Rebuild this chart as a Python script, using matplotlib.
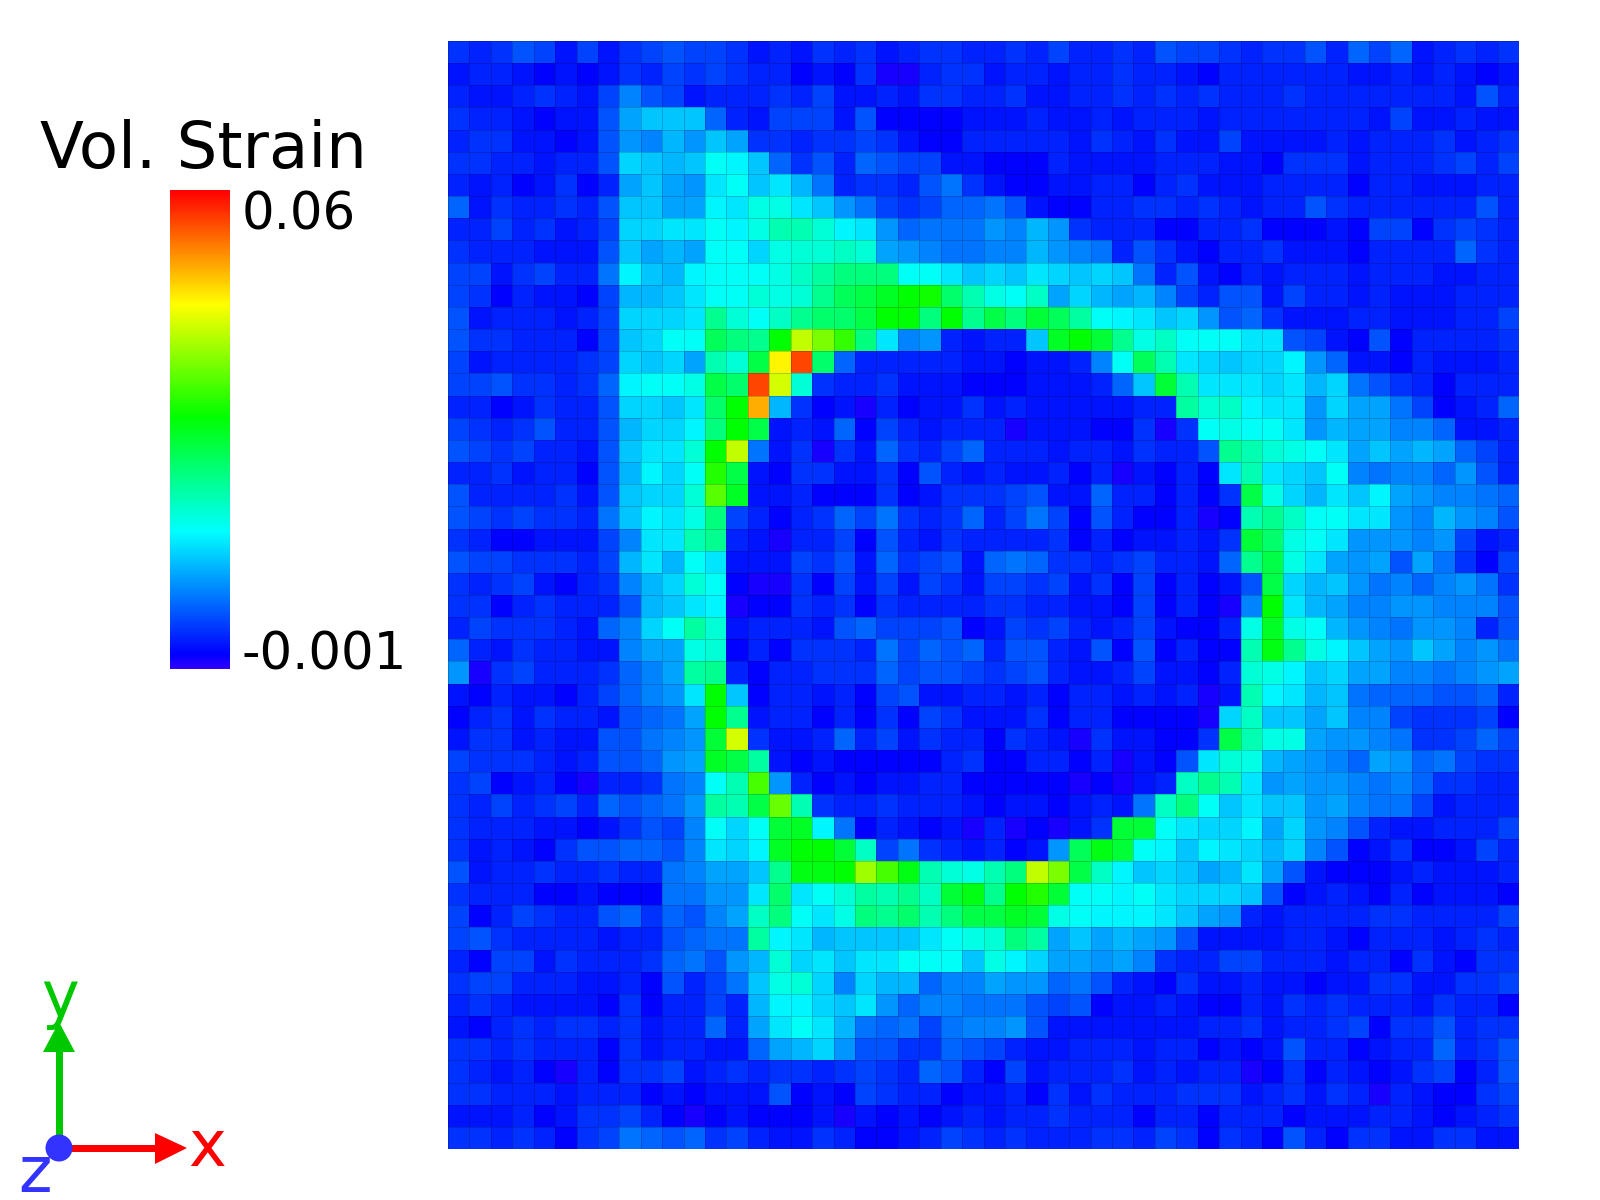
import numpy as np
import matplotlib
matplotlib.use('Agg')
import matplotlib.pyplot as plt
from matplotlib.colors import LinearSegmentedColormap
from matplotlib.patches import Circle, Polygon, Rectangle

# volumetric strain per cell, top row first, in units of 1e-3
r00 = [4,3,4,6,5,2,5,2,4,5,6,5,5,4,2,3,2, 4,3,4,2,3,4,4,3,3,4,3,5,3,3,4,3,6, 5,5,4,3,4,4,6,3,7,5,7,2,3,4,3,4]
r01 = [2,3,3,2,1,2,1,2,4,3,5,4,5,4,3,3,1, 2,1,4,0,0,3,4,4,2,3,3,2,3,3,4,3,3, 2,1,3,3,3,3,3,3,2,2,3,2,3,2,1,2]
r02 = [3,2,2,3,4,3,2,5,9,6,5,2,3,3,3,4,3, 5,2,2,3,2,4,4,3,3,4,2,2,3,3,4,3,4, 3,4,3,3,3,4,3,3,3,3,3,3,3,2,6,3]
r03 = [4,3,3,2,1,2,2,6,11,13,13,13,7,3,2,5,5, 5,2,6,1,1,1,1,2,2,2,3,2,2,3,2,3,3, 3,2,3,3,3,3,3,3,3,2,5,2,2,3,2,2]
r04 = [3,4,4,2,2,1,2,6,10,9,12,10,13,11,4,4,3, 4,4,5,4,2,1,1,3,3,3,3,3,2,4,3,2,4, 2,2,5,2,2,2,2,3,2,3,3,3,4,2,3,4]
r05 = [4,4,3,3,2,3,3,6,14,13,12,13,17,16,13,7,4, 6,3,7,6,5,5,2,2,1,1,1,3,2,2,2,2,3, 3,3,2,2,1,4,4,4,2,3,3,3,4,5,3,5]
r06 = [3,2,3,1,2,4,1,3,11,13,11,10,15,17,13,15,12, 8,3,4,4,3,6,8,4,2,1,1,2,2,3,3,1,3, 4,2,2,2,3,3,3,3,1,3,3,2,2,2,3,3]
r07 = [7,2,4,3,3,4,3,6,13,13,11,11,16,15,18,18,15, 13,10,8,5,4,5,7,7,8,6,2,1,1,3,3,4,4, 3,4,3,2,3,3,6,4,3,3,3,3,3,3,6,3]
r08 = [3,3,5,3,4,2,3,5,14,14,15,15,17,16,18,21,21, 19,16,15,10,7,8,8,8,10,9,12,10,4,3,3,3,1, 1,3,3,4,1,1,1,2,1,5,5,1,4,5,4,3]
r09 = [4,3,3,3,2,2,2,6,13,11,12,11,17,17,14,18,19, 19,20,19,11,10,9,8,8,9,9,12,10,9,8,3,6,4, 2,1,3,3,4,2,2,2,1,3,3,3,3,7,4,3]
r10 = [5,5,2,4,5,3,3,8,16,13,12,16,17,17,17,18,20, 22,24,24,24,17,17,15,13,14,13,15,14,13,14,13,8,3, 6,2,1,3,2,3,3,3,2,3,3,3,2,2,3,3]
r11 = [5,4,1,3,2,2,1,5,12,12,13,15,17,17,19,18,19, 23,26,27,29,31,32,25,21,18,17,20,11,14,12,11,12,9, 5,3,6,6,2,5,3,3,2,3,2,2,2,3,3,3]
r12 = [6,2,3,3,3,2,3,5,14,14,14,15,23,19,17,20,23, 25,25,27,31,31,24,31,23,27,24,28,26,22,17,16,15,13, 14,10,6,7,4,2,2,2,3,3,2,2,2,3,3,5]
r13 = [6,4,4,3,3,3,1,5,13,14,17,17,26,24,23,31,42, 38,34,24,15,9,10,3,2,3,3,13,29,31,28,23,18,20, 17,17,17,15,15,6,5,2,1,6,1,3,3,3,3,4]
r14 = [5,2,3,3,3,3,4,5,14,13,14,11,21,19,27,46,56, 25,7,3,3,3,3,3,2,2,1,2,2,3,9,17,26,21, 15,14,13,14,14,16,10,7,2,2,1,3,2,2,2,3]
r15 = [5,5,6,4,4,3,4,7,16,17,17,18,27,25,56,43,19, 4,3,3,4,2,2,2,1,1,1,2,2,2,3,7,13,28, 21,15,15,15,14,15,12,14,8,6,4,3,1,3,3,3]
r16 = [3,3,1,2,4,3,3,6,14,14,13,15,25,31,50,12,4, 1,2,0,3,1,2,2,4,2,3,2,2,2,2,2,3,3, 22,19,20,16,15,15,10,14,11,11,8,5,1,2,3,7]
r17 = [5,4,3,4,6,3,3,6,12,14,14,16,24,31,27,2,3, 2,7,1,5,3,2,3,3,3,0,2,2,2,1,1,4,0, 4,17,18,17,17,15,10,12,11,11,9,9,7,2,2,3]
r18 = [6,5,4,5,3,3,2,6,13,15,15,19,31,42,8,2,4, 0,4,2,7,4,3,5,7,3,3,3,2,3,3,2,4,3, 3,6,23,21,19,18,17,15,11,13,11,12,11,7,5,3]
r19 = [3,3,4,2,3,3,1,6,12,16,14,17,33,27,2,1,4, 4,2,2,4,1,6,3,2,3,2,2,3,1,3,0,2,1, 3,1,15,21,15,14,13,17,9,8,9,9,7,10,6,3]
r20 = [6,3,3,3,3,4,2,6,13,14,14,19,36,29,2,2,3, 1,1,1,4,1,2,4,4,4,5,6,2,2,7,3,3,1, 3,1,4,27,18,14,12,15,13,16,11,10,9,9,8,7]
r21 = [6,5,4,5,4,4,3,8,13,16,15,18,24,5,3,1,3, 4,7,5,8,4,3,4,7,3,5,8,5,1,6,3,1,1, 3,0,1,21,23,20,17,17,15,15,10,9,12,10,9,6]
r22 = [4,3,1,1,2,2,2,5,9,15,15,21,23,3,2,0,3, 3,5,1,6,3,2,4,3,3,3,3,4,1,3,1,2,2, 3,2,4,28,25,18,17,15,10,10,10,9,10,5,2,3]
r23 = [6,5,5,4,4,4,3,5,12,15,12,17,15,2,2,2,5, 4,6,2,7,4,5,6,2,7,8,7,4,4,3,4,5,3, 3,2,7,23,27,18,15,11,10,11,6,11,8,4,1,5]
r24 = [4,3,4,5,2,1,3,4,9,12,14,19,17,1,0,0,4, 1,5,2,5,2,5,4,2,5,5,4,5,2,4,1,5,1, 3,1,2,6,27,14,12,13,10,8,9,7,9,10,8,4]
r25 = [4,4,1,3,4,3,3,3,6,12,13,15,16,0,1,1,4, 3,4,1,4,3,3,3,3,4,4,3,3,2,2,1,5,1, 3,1,0,9,31,15,12,11,9,9,10,10,9,9,9,6]
r26 = [3,5,4,4,4,3,2,7,9,14,17,22,19,2,3,3,3, 2,6,7,5,5,5,6,1,2,5,4,5,3,2,3,5,2, 1,1,3,18,29,18,17,12,10,9,8,10,10,9,3,6]
r27 = [7,3,2,4,3,3,2,2,9,11,11,18,19,1,3,1,4, 4,4,3,8,5,7,6,7,3,6,6,3,2,6,1,6,1, 3,1,1,21,30,23,18,16,13,11,10,13,11,9,10,8]
r28 = [10,0,4,5,3,3,3,4,7,9,11,22,23,3,1,3,3, 4,4,4,7,5,6,6,5,4,5,6,3,2,2,3,5,2, 2,1,3,19,18,16,13,14,11,11,9,9,8,9,10,11]
r29 = [2,1,3,2,2,1,3,5,7,9,10,15,31,13,1,3,3, 2,3,1,5,6,2,2,3,3,2,3,1,3,3,2,3,2, 3,0,2,21,16,15,12,13,8,7,7,7,6,6,7,3]
r30 = [1,3,4,2,4,3,3,2,6,7,8,11,31,23,2,3,3, 1,3,1,4,1,5,4,2,2,2,4,1,3,3,1,1,1, 1,0,14,20,13,13,11,13,9,9,5,4,4,4,5,1]
r31 = [2,4,4,2,3,2,2,6,6,8,9,10,28,43,4,2,2, 3,7,3,5,2,4,3,3,1,4,3,2,0,4,2,2,1, 1,4,27,21,18,18,11,10,10,9,8,4,4,5,7,5]
r32 = [5,4,4,4,3,2,3,6,6,7,10,11,29,27,22,2,1, 2,1,1,1,1,1,3,4,1,1,3,3,1,3,0,2,1, 6,15,19,18,12,11,10,9,7,11,10,7,8,5,4,4]
r33 = [4,5,1,2,3,1,0,3,3,4,8,9,17,21,35,10,3, 1,2,1,2,2,3,3,1,1,1,1,1,0,1,0,2,3, 20,23,21,15,10,11,10,10,9,8,9,7,4,4,3,3]
r34 = [4,3,5,3,4,5,3,7,6,7,8,10,22,21,27,37,21, 4,3,3,4,3,3,3,2,1,2,2,1,2,3,2,8,20, 24,17,13,15,13,13,10,11,9,8,8,5,2,3,3,3]
r35 = [4,3,3,3,2,2,1,2,4,6,5,9,17,14,17,28,29, 16,8,1,3,2,1,2,0,3,0,1,0,2,4,28,28,17, 15,14,14,16,11,14,10,9,6,3,2,2,3,3,3,5]
r36 = [4,2,3,2,1,4,6,6,7,7,6,9,15,14,16,29,31, 31,28,20,5,8,4,3,2,3,1,2,10,26,30,28,17,16, 13,16,15,14,12,14,9,6,1,2,4,1,1,2,5,3]
r37 = [6,2,3,3,4,3,3,4,3,3,8,9,11,11,13,23,30, 30,31,40,35,30,21,19,18,21,24,42,38,27,20,16,13,14, 13,11,12,15,11,6,2,1,1,1,2,3,2,2,2,3]
r38 = [4,3,3,3,1,1,2,1,1,1,8,8,10,10,15,25,15, 17,19,22,21,23,20,28,30,23,31,33,28,17,17,16,17,15, 14,14,14,13,6,1,2,3,2,1,3,1,2,2,2,1]
r39 = [5,1,3,5,4,3,3,6,7,4,7,6,9,11,20,24,17, 15,18,24,23,25,21,24,27,27,29,28,18,17,16,16,16,15, 13,11,10,3,2,3,3,3,3,4,4,3,3,3,3,5]
r40 = [5,6,4,3,3,3,3,2,3,3,6,7,8,8,22,16,15, 12,13,13,13,13,15,17,18,19,24,22,11,13,11,12,11,10, 6,2,2,2,2,3,3,2,1,3,3,3,2,3,4,3]
r41 = [3,1,5,5,2,4,3,3,3,4,7,8,6,10,12,19,14, 15,13,15,15,17,17,17,13,18,16,14,11,11,10,11,9,4, 3,3,5,5,3,3,3,2,3,3,1,4,2,1,4,4]
r42 = [4,5,5,3,3,3,2,2,3,1,6,3,5,8,13,18,19, 14,9,14,12,12,7,9,9,11,10,10,7,8,6,3,2,1, 4,2,2,3,2,2,1,2,2,4,4,2,2,4,4,5]
r43 = [3,4,3,2,2,2,2,1,4,1,3,3,5,3,12,16,16, 14,13,15,10,7,9,9,8,8,8,6,5,6,1,2,2,3, 2,1,1,3,2,4,3,4,3,3,3,2,4,3,3,1]
r44 = [2,1,3,4,3,4,4,3,4,2,3,3,7,3,11,15,17, 15,12,8,7,8,5,8,9,9,10,6,2,2,2,2,2,2, 2,3,3,4,2,3,3,4,5,1,4,4,6,3,4,4]
r45 = [4,4,3,4,3,3,3,1,4,2,3,3,2,2,7,11,12, 14,10,6,6,4,4,7,6,5,3,2,2,3,3,3,2,3, 3,1,2,1,2,6,3,3,1,2,3,3,7,3,4,6]
r46 = [4,3,2,3,1,0,3,1,4,4,5,2,3,4,3,4,4, 3,4,5,4,3,7,6,3,1,5,2,3,3,3,4,2,3, 2,3,3,0,1,4,1,3,2,1,2,4,5,1,3,6]
r47 = [4,4,3,3,3,2,3,3,3,1,2,1,2,2,2,6,1, 2,1,5,4,3,3,1,2,2,3,1,4,2,4,3,3,3, 4,4,4,2,3,4,2,4,3,0,3,2,1,1,4,5]
r48 = [2,2,2,3,1,2,4,4,5,3,1,0,1,2,1,1,1, 2,0,2,1,2,1,2,3,2,3,3,4,3,3,3,1,3, 3,1,3,3,3,1,2,2,2,3,3,2,1,2,3,4]
r49 = [4,4,3,4,3,1,4,5,8,7,6,7,4,5,3,2,2, 4,3,1,1,2,3,5,4,3,4,3,3,3,4,4,3,5, 4,1,4,3,1,6,3,1,4,4,2,2,4,4,2,2]

rows = [r00, r01, r02, r03, r04, r05, r06, r07, r08, r09,
        r10, r11, r12, r13, r14, r15, r16, r17, r18, r19,
        r20, r21, r22, r23, r24, r25, r26, r27, r28, r29,
        r30, r31, r32, r33, r34, r35, r36, r37, r38, r39,
        r40, r41, r42, r43, r44, r45, r46, r47, r48, r49]

vmin = -0.001
vmax = 0.06
bar_labels = ['0.06', '-0.001']

strain = np.array(rows, dtype=float) * 1e-3

# colour scale as in the bar of the original
cmap = LinearSegmentedColormap.from_list('strain', [
    (0.0, '#3000ff'), (0.03, '#0000ff'), (0.287, '#00ffff'),
    (0.526, '#00ff00'), (0.762, '#ffff00'), (1.0, '#ff0000')], N=512)

W, H = 1600, 1200
fig = plt.figure(figsize=(W / 100, H / 100), dpi=100)


def box(x0, y0, x1, y1):
    # pixel box to figure fractions
    return [x0 / W, 1 - y1 / H, (x1 - x0) / W, (y1 - y0) / H]


# Main grid
ax = fig.add_axes(box(448, 41, 1519, 1149))
mesh = ax.pcolormesh(strain, cmap=cmap, vmin=vmin, vmax=vmax,
                     edgecolors=(0, 0, 0, 0.18), linewidth=0.5)
ax.invert_yaxis()
ax.axis('off')

# Colour bar
cax = fig.add_axes(box(170, 190, 230, 669))
cb = fig.colorbar(mesh, cax=cax)
cb.set_ticks([])
cb.outline.set_visible(False)

# Overlay in pixel coordinates for the labels and the triad
ov = fig.add_axes([0, 0, 1, 1])
ov.set_xlim(0, W)
ov.set_ylim(H, 0)
ov.axis('off')

ov.text(40, 168, 'Vol. Strain', fontsize=46.2, color='black', va='baseline')
ov.text(242, 229, bar_labels[0], fontsize=37, color='black', va='baseline')
ov.text(242, 669, bar_labels[1], fontsize=37, color='black', va='baseline')

# x y z triad
green = '#00c800'
red = '#ff0000'
blue = '#3333ff'
ov.add_patch(Rectangle((55.5, 1050), 7, 98, color=green, lw=0))
ov.add_patch(Polygon([(43, 1052), (75, 1052), (59, 1022)], color=green, lw=0))
ov.add_patch(Rectangle((59, 1144.5), 98, 7, color=red, lw=0))
ov.add_patch(Polygon([(155, 1133), (155, 1164), (187, 1148)], color=red, lw=0))
ov.add_patch(Circle((59, 1148), 13.5, color=blue, lw=0, zorder=5))
ov.text(60, 1017, 'y', fontsize=46, color=green, ha='center', va='baseline')
ov.text(207, 1166, 'x', fontsize=46, color=red, ha='center', va='baseline')
ov.text(35, 1192, 'z', fontsize=46, color=blue, ha='center', va='baseline')

fig.savefig('out.png', dpi=100)
